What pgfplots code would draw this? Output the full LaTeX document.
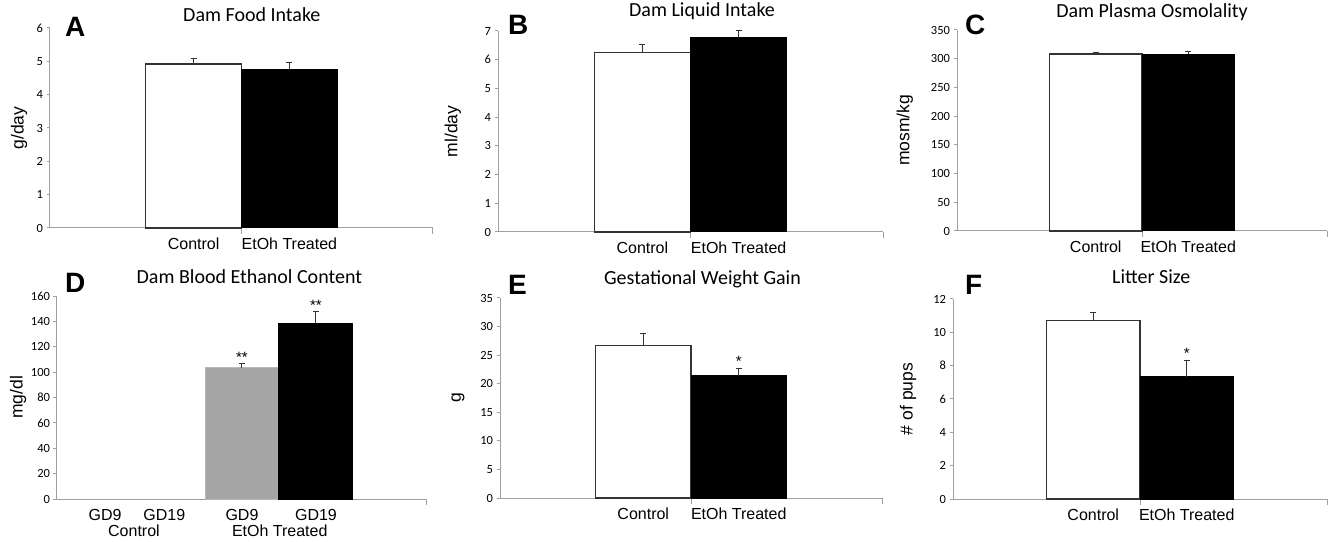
\documentclass[border=0pt]{standalone}
\usepackage{fontspec}
\setmainfont{Carlito}
\newfontfamily\arial{Liberation Sans}
\usepackage{pgfplots}
\pgfplotsset{compat=1.18}
\definecolor{axgray}{HTML}{A0A0A0}
\definecolor{bargray}{HTML}{A6A6A6}
\definecolor{edge}{HTML}{333333}
\pgfplotsset{
  panel/.style={
    scale only axis, anchor=south west,
    axis lines*=left,
    axis line style={draw=axgray, line width=1pt},
    ymin=0, xmin=-1.5, xmax=2.5,
    xtick={0,1}, xticklabels={Control, EtOh Treated},
    x tick label style={font=\arial\fontsize{16}{18}\selectfont, text=black, anchor=north, yshift=-3pt},
    major x tick style={draw=none},
    minor xtick={0.5,2.5},
    minor x tick style={draw=axgray, line width=1pt},
    minor tick length=6pt,
    y tick label style={font=\fontsize{12.5}{15}\selectfont, text=black},
    ytick style={draw=axgray, line width=1pt},
    major tick length=3.5pt, tick align=outside,
    /pgf/number format/assume math mode=true,
    ylabel style={font=\arial\fontsize{17.5}{20}\selectfont, anchor=center},
    title style={font=\fontsize{20}{24}\selectfont, anchor=base},
    clip=false,
  },
  errs/.style={error bars/.cd, y dir=plus, y explicit,
    error bar style={draw=edge, line width=1pt},
    error mark options={draw=edge, line width=1pt, mark size=3pt, rotate=90}},
  ctrlbar/.style={ybar, bar width=1, bar shift=0pt, fill=white, draw=edge, line width=1.3pt, errs},
  etbar/.style={ybar, bar width=1, bar shift=0pt, fill=black, draw=black, line width=1pt, errs},
  star/.style={draw=none, mark=none, nodes near coords={#1}, nodes near coords align={above},
    every node near coord/.append style={font=\arial\fontsize{15}{16}\selectfont, text=black, inner sep=1.5pt, anchor=south}},
}
\begin{document}
\begin{tikzpicture}
\path[use as bounding box] (0,0) rectangle (1331pt,541pt);
% A
\begin{axis}[panel, at={(50pt,313pt)}, width=383pt, height=200pt, ymax=6, ytick={0,1,...,6},
  ylabel={g/day}, ylabel style={at={(axis description cs:-0.081,0.5)}},
  title={Dam Food Intake}, title style={at={(axis description cs:0.527,1)}}]
\addplot[ctrlbar] coordinates {(0,4.92) +- (0,0.15)};
\addplot[etbar] coordinates {(1,4.76) +- (0,0.20)};
\end{axis}
% B
\begin{axis}[panel, at={(498pt,309pt)}, width=385pt, height=201pt, ymax=7, ytick={0,1,...,7},
  ylabel={ml/day}, ylabel style={at={(axis description cs:-0.117,0.5)}},
  title={Dam Liquid Intake}, title style={at={(axis description cs:0.53,1)}, yshift=8pt}]
\addplot[ctrlbar] coordinates {(0,6.26) +- (0,0.27)};
\addplot[etbar] coordinates {(1,6.76) +- (0,0.24)};
\end{axis}
% C
\begin{axis}[panel, at={(957pt,310pt)}, width=370pt, height=201pt, ymax=350, ytick={0,50,...,350},
  ylabel={mosm/kg}, ylabel style={at={(axis description cs:-0.141,0.5)}},
  title={Dam Plasma Osmolality}, title style={at={(axis description cs:0.527,1)}, yshift=6pt}]
\addplot[ctrlbar] coordinates {(0,308) +- (0,2)};
\addplot[etbar] coordinates {(1,308) +- (0,5)};
\end{axis}
% D
\begin{axis}[panel, at={(57pt,42pt)}, width=370pt, height=203pt, ymax=160, ytick={0,20,...,160},
  xmin=-0.5, xmax=4.5,
  xtick={0.15,0.95,2,3}, xticklabels={GD9,GD19,GD9,GD19},
  minor xtick={4.5},
  extra x ticks={0.54,2.51}, extra x tick labels={Control,EtOh Treated},
  extra x tick style={major tick length=0pt, tick label style={yshift=-19pt}},
  ylabel={mg/dl}, ylabel style={at={(axis description cs:-0.105,0.5)}},
  title={Dam Blood Ethanol Content}, title style={at={(axis description cs:0.52,1)}, yshift=6pt}]
\addplot[ybar, bar width=1, bar shift=0pt, fill=bargray, draw=bargray!80, line width=0.5pt, errs] coordinates {(2,103.5) +- (0,3)};
\addplot[etbar] coordinates {(3,138.5) +- (0,9)};
\addplot[star={**}] coordinates {(2,106.5) (3,147.5)};
\end{axis}
% E
\begin{axis}[panel, at={(500pt,43pt)}, width=382pt, height=200pt, ymax=35, ytick={0,5,...,35},
  ylabel={g}, ylabel style={at={(axis description cs:-0.11,0.5)}},
  title={Gestational Weight Gain}, title style={at={(axis description cs:0.53,1)}, yshift=7pt}]
\addplot[ctrlbar] coordinates {(0,26.7) +- (0,2.1)};
\addplot[etbar] coordinates {(1,21.4) +- (0,1.3)};
\addplot[star={*}] coordinates {(1,22.7)};
\end{axis}
% F
\begin{axis}[panel, at={(953pt,42pt)}, width=374pt, height=200pt, ymax=12, ytick={0,2,...,12},
  ylabel={\# of pups}, ylabel style={at={(axis description cs:-0.12,0.5)}},
  title={Litter Size}, title style={at={(axis description cs:0.53,1)}, yshift=9pt}]
\addplot[ctrlbar] coordinates {(0,10.7) +- (0,0.5)};
\addplot[etbar] coordinates {(1,7.32) +- (0,1.0)};
\addplot[star={*}] coordinates {(1,8.32)};
\end{axis}
% panel letters
\begin{scope}[every node/.style={anchor=base west, inner sep=0pt, font=\arial\bfseries\fontsize{28}{30}\selectfont}]
\node at (65pt,504pt) {A};
\node at (508pt,506pt) {B};
\node at (965pt,506pt) {C};
\node at (65pt,248pt) {D};
\node at (508pt,246pt) {E};
\node at (965pt,246pt) {F};
\end{scope}
\end{tikzpicture}
\end{document}
